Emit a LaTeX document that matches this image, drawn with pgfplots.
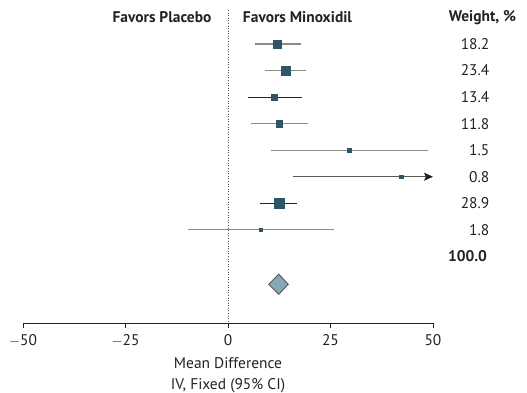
\documentclass[border=0pt]{standalone}
\usepackage{pgfplots}
\pgfplotsset{compat=1.18}
\usepackage{pgfplotstable}
\usepackage{fontspec}
\setmainfont{PT Sans}
\usetikzlibrary{arrows.meta}
\definecolor{sq}{HTML}{2E5766}
\definecolor{dia}{HTML}{84A8B4}
\definecolor{ci}{HTML}{8A8A8A}
\definecolor{txt}{HTML}{222222}

\pgfplotstableread{
x y s
12.0 1 4.0
14.1 2 4.5
11.3 3 3.25
12.5 4 3.35
29.6 5 2.35
42.2 6 1.85
12.4 7 5.0
8.0 8 1.85
}\points

\begin{document}
\begin{tikzpicture}
\useasboundingbox (0,0) rectangle (527bp,393bp);
\begin{axis}[
  at={(23bp,70bp)}, anchor=south west,
  scale only axis, width=410bp, height=313bp,
  xmin=-50, xmax=50, ymin=-0.28, ymax=11.51, y dir=reverse,
  axis x line=bottom, axis y line=none,
  axis line style={-, draw=txt, line width=0.8pt},
  xtick={-50,-25,0,25,50},
  xticklabels={$-$50,$-$25,0,25,50},
  tick align=outside, major tick length=5bp,
  tick style={draw=txt, line width=0.8pt},
  every tick label/.style={font=\fontsize{15.5}{17}\selectfont, text=txt},
  /pgf/number format/assume math mode=true,
  xticklabel style={yshift=-3bp},
  xlabel={Mean Difference\\IV, Fixed (95\% CI)},
  xlabel style={align=center, font=\fontsize{15.5}{21}\selectfont, text=txt, yshift=-4bp},
  clip=false,
]
% reference line
\addplot[dotted, draw=txt!80, line width=0.6pt] coordinates {(0,-0.28) (0,11.51)};
% CIs
\addplot[ci, line width=1.3pt] coordinates {(6.6,1) (17.8,1)};
\addplot[ci, line width=1.3pt] coordinates {(9.0,2) (19.0,2)};
\addplot[txt, line width=1.1pt] coordinates {(4.9,3) (18.0,3)};
\addplot[ci, line width=1.3pt] coordinates {(5.5,4) (19.5,4)};
\addplot[ci, line width=1.3pt] coordinates {(10.4,5) (48.8,5)};
\addplot[gray!70!black, line width=1.1pt, -{Stealth[length=9bp,width=8bp,inset=2bp,color=txt]}] coordinates {(15.9,6) (50,6)};
\addplot[txt, line width=1.1pt] coordinates {(7.8,7) (16.8,7)};
\addplot[ci, line width=1.1pt] coordinates {(-9.7,8) (25.9,8)};
% squares
\addplot[scatter, only marks, mark=square*,
  scatter/use mapped color={draw=sq, fill=sq},
  visualization depends on={\thisrow{s} \as \msize},
  scatter/@pre marker code/.append style={/tikz/mark size=\msize}]
  table[x=x, y=y] {\points};
% diamond
\addplot[fill=dia, draw=txt!80, line width=0.8pt] coordinates {(9.9,10.05) (12.4,9.67) (14.7,10.05) (12.4,10.43)} -- cycle;
% headers
\node[anchor=east, font=\bfseries\fontsize{15.5}{17}\selectfont, text=txt] at (axis cs:-3.2,0) {Favors Placebo};
\node[anchor=west, font=\bfseries\fontsize{15.5}{17}\selectfont, text=txt] at (axis cs:2.8,0) {Favors Minoxidil};
\node[anchor=west, font=\bfseries\fontsize{15.5}{17}\selectfont, text=txt] at (axis cs:53.0,0) {Weight, \%};
% weights
\foreach \w [count=\i] in {18.2,23.4,13.4,11.8,1.5,0.8,28.9,1.8} {
  \edef\tmp{\noexpand\node[anchor=east, font=\noexpand\fontsize{15.5}{17}\noexpand\selectfont, text=txt] at (axis cs:64.6,\i) {\w};}
  \tmp
}
\node[anchor=east, font=\bfseries\fontsize{15.5}{17}\selectfont, text=txt] at (axis cs:64.0,9) {100.0};
\end{axis}
\end{tikzpicture}
\end{document}
